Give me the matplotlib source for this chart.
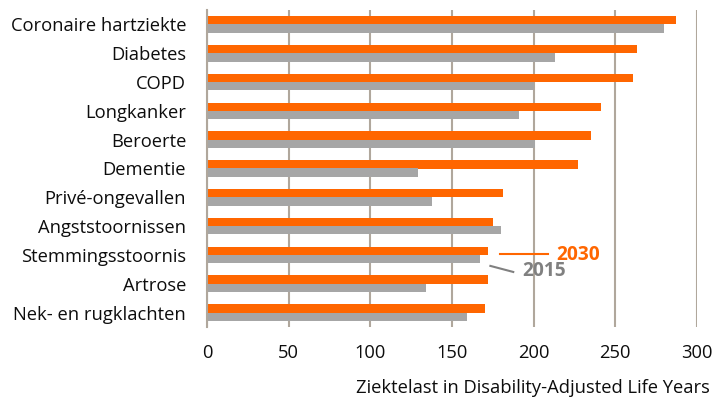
import matplotlib
matplotlib.use("Agg")
import matplotlib.pyplot as plt
import numpy as np

categories = ["Coronaire hartziekte", "Diabetes", "COPD", "Longkanker", "Beroerte",
              "Dementie", "Privé-ongevallen", "Angststoornissen", "Stemmingsstoornis",
              "Artrose", "Nek- en rugklachten"]
dalys_2030 = [287, 263, 261, 241, 235, 227, 181, 175, 172, 172, 170]
dalys_2015 = [280, 213, 200, 191, 201, 129, 138, 180, 167, 134, 159]
x_ticks = [0, 50, 100, 150, 200, 250, 300]

orange = "#FF6600"
grey = "#A6A6A6"
grid_col = "#B0A79C"
text_col = "#0d0d0d"

plt.rcParams["font.family"] = ["Open Sans", "DejaVu Sans"]

fig = plt.figure(figsize=(7.14, 3.98), dpi=100)
ax = fig.add_axes([207 / 714, 1 - 327 / 398, 490 / 714, 317 / 398])

n = len(categories)
y = np.arange(n)
h = 0.29
ax.barh(y - h / 2, dalys_2030, height=h, color=orange, zorder=3)
ax.barh(y + h / 2, dalys_2015, height=h, color=grey, zorder=3)

ax.set_ylim(n - 0.5, -0.5)
ax.set_xlim(0, 300)
ax.set_yticks(y)
ax.set_yticklabels(categories, fontsize=13.2, color=text_col)
ax.set_xticks(x_ticks)
ax.set_xticklabels([str(t) for t in x_ticks], fontsize=13.2, color=text_col)
ax.tick_params(axis="y", length=0, pad=15)
ax.tick_params(axis="x", length=0, pad=12)

for s in ["top", "right", "bottom"]:
    ax.spines[s].set_visible(False)
ax.spines["left"].set_color(grid_col)
ax.spines["left"].set_linewidth(1.5)
ax.spines["left"].set_zorder(4)

ax.xaxis.grid(True, color=grid_col, linewidth=1.5, zorder=0)
ax.set_axisbelow(True)

# Inline series labels beside the Stemmingsstoornis bars
i = categories.index("Stemmingsstoornis")
ax.plot([179.5, 209], [i - 0.03, i - 0.03], color=orange, lw=1.5, clip_on=False, zorder=5)
ax.text(214, i + 0.0, "2030", color=orange, fontsize=13.8, fontweight="bold",
        va="center", ha="left", clip_on=False)
ax.plot([173.5, 187.5], [i + 0.38, i + 0.59], color="#808080", lw=1.5, clip_on=False, zorder=5)
ax.text(193, i + 0.55, "2015", color="#808080", fontsize=13.8, fontweight="bold",
        va="center", ha="left", clip_on=False)

fig.text(710 / 714, 1 - 388 / 398, "Ziektelast in Disability-Adjusted Life Years",
         ha="right", va="center", fontsize=13.2, color=text_col)

fig.savefig("out.png", dpi=100)
